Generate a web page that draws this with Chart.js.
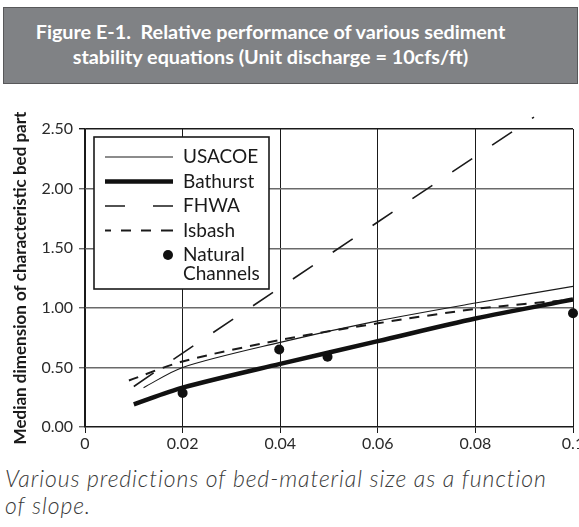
<!DOCTYPE html>
<html>
<head>
<meta charset="utf-8">
<script src="https://cdn.jsdelivr.net/npm/chart.js@4.4.1/dist/chart.umd.min.js"></script>
<style>
    html, body { margin: 0; padding: 0; width: 579px; height: 527px; overflow: hidden; background: #ffffff; }
    #judul {
        position: absolute; left: 3px; top: 7px; width: 575px; height: 77px;
        box-sizing: border-box; padding-top: 11px; padding-right: 40px;
        background: #808285; border: 1px solid #58585a;
        color: #ffffff; font: bold 19.8px Lato, sans-serif;
        text-align: center; line-height: 25px; white-space: nowrap;
    }
    #wadah { position: absolute; left: 0; top: 90px; width: 600px; height: 365px; }
    #keterangan {
        position: absolute; left: 5px; top: 465px; width: 574px;
        font: italic 300 23px Lato, sans-serif; color: #3a3a3a; line-height: 27px;
        letter-spacing: 0.9px; white-space: nowrap;
    }
</style>
</head>
<body>
<div id="judul">Figure E-1.&nbsp; Relative performance of various sediment<br>stability equations (Unit discharge = 10cfs/ft)</div>
<div id="wadah"><canvas id="chart-sedimen"></canvas></div>
<div id="keterangan">Various predictions of bed-material size as a function<br>of slope.</div>

<script>
// Data (slope vs median bed particle size)
const xTicks = [0, 0.02, 0.04, 0.06, 0.08, 0.1];
const yTicks = [0, 0.5, 1.0, 1.5, 2.0, 2.5];

const usacoeSlope = [0.012, 0.02, 0.04, 0.06, 0.08, 0.1];
const usacoeSize  = [0.33, 0.50, 0.71, 0.89, 1.04, 1.18];

const bathurstSlope = [0.01, 0.02, 0.04, 0.06, 0.08, 0.1];
const bathurstSize  = [0.19, 0.33, 0.53, 0.72, 0.91, 1.07];

const fhwaSlope = [0.01, 0.02, 0.04, 0.06, 0.08, 0.092];
const fhwaSize  = [0.34, 0.62, 1.17, 1.72, 2.27, 2.60];

const isbashSlope = [0.009, 0.02, 0.04, 0.06, 0.08, 0.1];
const isbashSize  = [0.39, 0.55, 0.73, 0.87, 0.99, 1.07];

const naturalSlope = [0.02, 0.0398, 0.0497, 0.1];
const naturalSize  = [0.285, 0.65, 0.59, 0.955];

const seriesNames = ['USACOE', 'Bathurst', 'FHWA', 'Isbash', 'Natural Channels'];

const toPoints = (xs, ys) => xs.map((x, i) => ({ x: x, y: ys[i] }));
const FONT = 'Lato, sans-serif';

// Legend kotak di dalam area plot (digambar manual)
const legendDalam = {
    id: 'legendDalam',
    afterDraw(chart) {
        const ctx = chart.ctx;
        const area = chart.chartArea;
        const left = area.left + 9, top = area.top + 8;
        const w = 175, h = 152;
        ctx.save();
        ctx.fillStyle = '#ffffff';
        ctx.fillRect(left, top, w, h);
        ctx.lineWidth = 1.6;
        ctx.strokeStyle = '#1a1a1a';
        ctx.strokeRect(left, top, w, h);

        ctx.font = '19px ' + FONT;
        ctx.textBaseline = 'middle';
        let y = top + 20;
        chart.data.datasets.forEach(ds => {
            const x0 = left + 11, x1 = left + 79, tx = left + 89;
            if (ds.showLine) {
                ctx.beginPath();
                ctx.setLineDash(ds.legendDash || []);
                ctx.lineWidth = ds.borderWidth;
                ctx.strokeStyle = ds.borderColor;
                ctx.moveTo(x0, y);
                ctx.lineTo(x1, y);
                ctx.stroke();
                ctx.setLineDash([]);
            } else {
                ctx.beginPath();
                ctx.fillStyle = ds.backgroundColor;
                ctx.arc(x1 - 5, y, ds.pointRadius, 0, Math.PI * 2);
                ctx.fill();
            }
            // bungkus teks yang terlalu lebar
            const words = ds.label.split(' ');
            const lines = [];
            let cur = '';
            words.forEach(wd => {
                const test = cur ? cur + ' ' + wd : wd;
                if (ctx.measureText(test).width > 82 && cur) { lines.push(cur); cur = wd; }
                else cur = test;
            });
            lines.push(cur);
            ctx.fillStyle = '#1a1a1a';
            lines.forEach((ln, i) => ctx.fillText(ln, tx, y + i * 19));
            y += 24.5;
        });
        ctx.restore();
    }
};

const ctx = document.getElementById('chart-sedimen');
new Chart(ctx, {
    type: 'scatter',
    data: {
        datasets: [
            {
                label: seriesNames[0],
                data: toPoints(usacoeSlope, usacoeSize),
                showLine: true, borderColor: '#1a1a1a', borderWidth: 1.1,
                pointRadius: 0, tension: 0.3
            },
            {
                label: seriesNames[1],
                data: toPoints(bathurstSlope, bathurstSize),
                showLine: true, borderColor: '#111111', borderWidth: 4.5,
                pointRadius: 0, tension: 0.3
            },
            {
                label: seriesNames[2],
                data: toPoints(fhwaSlope, fhwaSize),
                showLine: true, borderColor: '#1a1a1a', borderWidth: 1.6,
                borderDash: [24, 24], legendDash: [20, 28],
                pointRadius: 0, clip: false
            },
            {
                label: seriesNames[3],
                data: toPoints(isbashSlope, isbashSize),
                showLine: true, borderColor: '#1a1a1a', borderWidth: 2,
                borderDash: [10, 8], legendDash: [6, 10, 10, 10, 10, 10, 12, 0],
                pointRadius: 0, tension: 0.3
            },
            {
                label: seriesNames[4],
                data: toPoints(naturalSlope, naturalSize),
                showLine: false, backgroundColor: '#111111', borderColor: '#111111',
                pointRadius: 5, borderWidth: 0, clip: false
            }
        ]
    },
    options: {
        responsive: true,
        maintainAspectRatio: false,
        animation: false,
        layout: { padding: { top: 39, right: 27, left: 0, bottom: 0 } },
        plugins: {
            legend: { display: false },
            tooltip: { enabled: false }
        },
        scales: {
            x: {
                type: 'linear',
                min: xTicks[0],
                max: xTicks[xTicks.length - 1],
                afterBuildTicks: s => { s.ticks = xTicks.map(v => ({ value: v })); },
                afterFit: s => { s.height = 28; },
                grid: { color: '#1a1a1a', lineWidth: 1, tickLength: 6 },
                border: { color: '#1a1a1a', width: 1.2 },
                ticks: {
                    color: '#2a2a2a', padding: 1, maxRotation: 0,
                    font: { family: FONT, size: 16 },
                    callback: v => String(v)
                }
            },
            y: {
                type: 'linear',
                min: yTicks[0],
                max: yTicks[yTicks.length - 1],
                afterBuildTicks: s => { s.ticks = yTicks.map(v => ({ value: v })); },
                afterFit: s => { s.width = 85; },
                grid: {
                    color: c => (c.tick && c.tick.value === 2.5) ? '#1a1a1a' : '#6a6a6a',
                    lineWidth: 1.4, tickLength: 6
                },
                border: { color: '#1a1a1a', width: 1.2 },
                title: {
                    display: true,
                    text: 'Median dimension of characteristic bed part',
                    color: '#1a1a1a',
                    font: { family: FONT, size: 17, weight: 'bold' },
                    padding: { top: 10, bottom: 0 }
                },
                ticks: {
                    color: '#2a2a2a', padding: 6,
                    font: { family: FONT, size: 16 },
                    callback: v => Number(v).toFixed(2)
                }
            }
        }
    },
    plugins: [legendDalam]
});
</script>
</body>
</html>
